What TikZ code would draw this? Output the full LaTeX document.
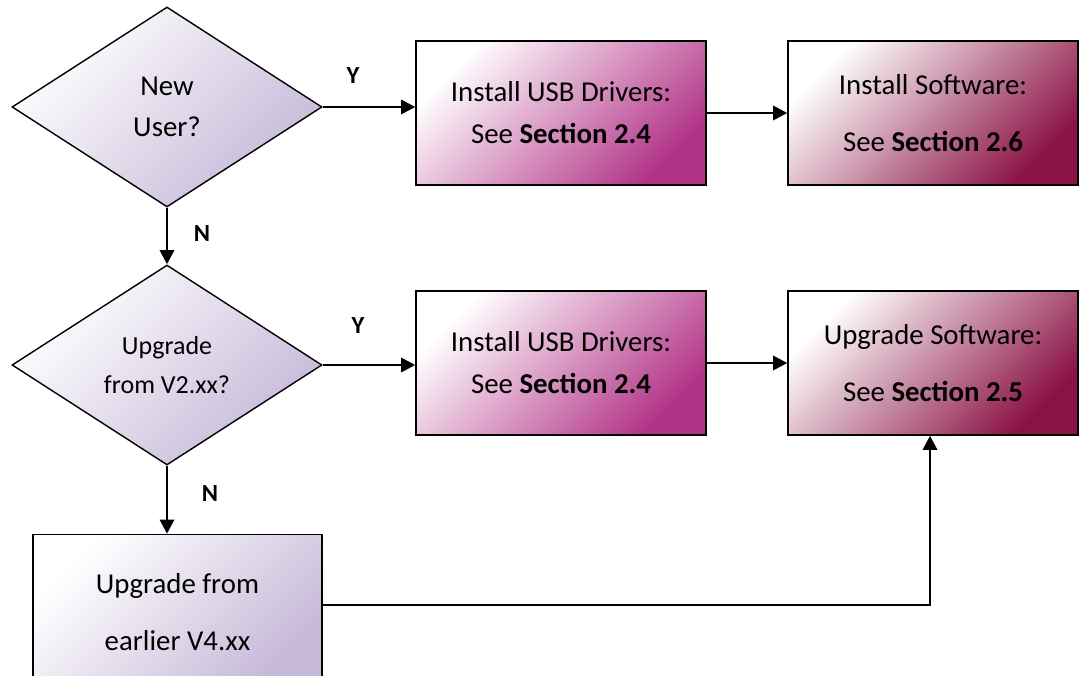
\documentclass[tikz,border=0pt]{standalone}
\usepackage{fontspec}
\setmainfont{Carlito}
\usepackage{xcolor}
\usepackage{tikz}
\usetikzlibrary{arrows.meta,shapes.geometric}
\usetikzlibrary{calc}
\usetikzlibrary{positioning}

\definecolor{lavend}{RGB}{198,184,216}
\definecolor{plum}{RGB}{178,52,136}
\definecolor{wine}{RGB}{138,18,68}

\begin{document}
\begin{tikzpicture}[-,>={Triangle[length=10pt,width=10pt]},x=0.25mm,y=-0.25mm,semithick]
	\path[use as bounding box,clip] (0,0) rectangle (1083,676);
	\tikzstyle{ask}=[draw,diamond,line width=1pt,inner sep=0pt,minimum width=77.5mm,align=center,top color=white,bottom color=lavend,shading angle=45]
	\tikzstyle{stepbox}=[draw,rectangle,line width=1pt,minimum width=72.5mm,minimum height=36mm,align=center,font=\fontsize{20.5}{40}\selectfont]
	\tikzstyle{drv}=[stepbox,top color=white,bottom color=plum,shading angle=45,font=\fontsize{20.5}{30}\selectfont]
	\tikzstyle{sw}=[stepbox,top color=white,bottom color=wine,shading angle=45]
	\tikzstyle{yn}=[font=\fontsize{17.5}{20}\selectfont\bfseries]
	\tikzstyle{wire}=[->,line width=1.9pt]
		\node[ask,minimum height=50mm,font=\fontsize{20.5}{29}\selectfont] (New) at (167,107) {New\\User?};
		\node[drv]    (DrvA) at (561,113) {Install USB Drivers:\\See \textbf{Section 2.4}};
		\node[sw]     (SwA)  at (933,113) {Install Software:\\See \textbf{Section 2.6}};
		\node[ask,minimum height=50mm,font=\fontsize{18.5}{27.5}\selectfont] (Upg) at (167,365) {Upgrade\\from V2.xx?};
		\node[drv]    (DrvB) at (561,363) {Install USB Drivers:\\See \textbf{Section 2.4}};
		\node[sw]     (SwB)  at (933,363) {Upgrade Software:\\See \textbf{Section 2.5}};
		\node[stepbox,minimum width=72.25mm,minimum height=38.75mm,top color=white,bottom color=lavend,shading angle=45] (Old) at (177.5,612) {Upgrade from\\earlier V4.xx};
		\node[yn] (Y1) at (353,76)  {Y};
		\node[yn] (N1) at (202,234) {N};
		\node[yn] (Y2) at (358,326) {Y};
		\node[yn] (N2) at (210,494) {N};

		\path[wire]
				(New.east) edge[wire] (New.east -| DrvA.west)
				(DrvA) edge[wire] (SwA)
				(New) edge[wire] (Upg)
				(Upg.east) edge[wire] (Upg.east -| DrvB.west)
				(DrvB) edge[wire] (SwB)
				(Upg.south) edge[wire] (Upg.south |- Old.north);
		\draw[wire] ([yshift=1.75mm]Old.east) -| ($(SwB.south)+(-3,0)$);
\end{tikzpicture}
\end{document}
